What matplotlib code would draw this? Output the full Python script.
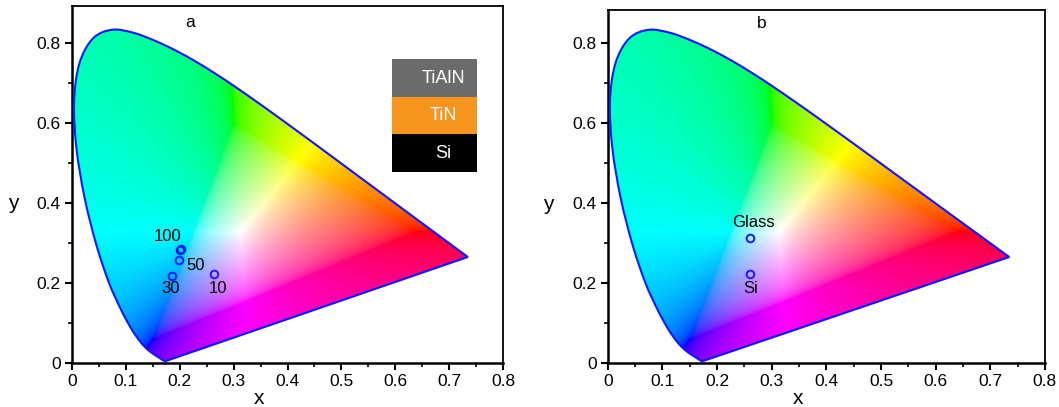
import numpy as np
import matplotlib
matplotlib.use("Agg")
import matplotlib.pyplot as plt
from matplotlib.patches import PathPatch, Rectangle
from matplotlib.path import Path
from matplotlib.ticker import MultipleLocator

plt.rcParams['font.family'] = ['Liberation Sans', 'DejaVu Sans']

# CIE 1931 2 deg spectral locus (380-700 nm)
locus_x = [0.1741, 0.1740, 0.1738, 0.1736, 0.1733, 0.1730, 0.1726, 0.1721, 0.1714, 0.1703,
           0.1689, 0.1669, 0.1644, 0.1611, 0.1566, 0.1510, 0.1440, 0.1355, 0.1241, 0.1096,
           0.0913, 0.0687, 0.0454, 0.0235, 0.0082, 0.0039, 0.0139, 0.0389, 0.0743, 0.1142,
           0.1547, 0.1929, 0.2296, 0.2658, 0.3016, 0.3373, 0.3731, 0.4087, 0.4441, 0.4788,
           0.5125, 0.5448, 0.5752, 0.6029, 0.6270, 0.6482, 0.6658, 0.6801, 0.6915, 0.7006,
           0.7079, 0.7140, 0.7190, 0.7230, 0.7260, 0.7283, 0.7300, 0.7311, 0.7320, 0.7334,
           0.7344, 0.7347]
locus_y = [0.0050, 0.0050, 0.0049, 0.0049, 0.0048, 0.0048, 0.0048, 0.0048, 0.0051, 0.0058,
           0.0069, 0.0086, 0.0109, 0.0138, 0.0177, 0.0227, 0.0297, 0.0399, 0.0578, 0.0868,
           0.1327, 0.2007, 0.2950, 0.4127, 0.5384, 0.6548, 0.7502, 0.8120, 0.8338, 0.8262,
           0.8059, 0.7816, 0.7543, 0.7243, 0.6923, 0.6589, 0.6245, 0.5896, 0.5547, 0.5202,
           0.4866, 0.4544, 0.4242, 0.3965, 0.3725, 0.3514, 0.3340, 0.3197, 0.3083, 0.2993,
           0.2920, 0.2859, 0.2809, 0.2770, 0.2740, 0.2717, 0.2700, 0.2689, 0.2680, 0.2666,
           0.2656, 0.2653]

# panel a: TiAlN/TiN/Si samples
a_x = [0.2006, 0.2025, 0.1988, 0.1858, 0.2642]
a_y = [0.2816, 0.2850, 0.2566, 0.2174, 0.2240]
a_labels = ["100", "50", "30", "10"]
a_label_x = [0.177, 0.229, 0.182, 0.271]
a_label_y = [0.317, 0.245, 0.186, 0.186]

# panel b: substrates
b_x = [0.260, 0.260]
b_y = [0.313, 0.2225]
b_labels = ["Glass", "Si"]
b_label_x = [0.266, 0.262]
b_label_y = [0.351, 0.187]

stack_names = ["TiAlN", "TiN", "Si"]
stack_colors = ["#6b6b6b", "#f7941d", "#000000"]


def smooth_outline(xs, ys):
    # Catmull-Rom through the locus points drawn as cubic Beziers, closed by the purple line
    p = np.column_stack([xs, ys])
    verts = [p[0]]
    codes = [Path.MOVETO]
    for i in range(len(p) - 1):
        p0 = p[max(i - 1, 0)]
        p1, p2 = p[i], p[i + 1]
        p3 = p[min(i + 2, len(p) - 1)]
        verts += [p1 + (p2 - p0) / 6, p2 - (p3 - p1) / 6, p2]
        codes += [Path.CURVE4] * 3
    verts += [p[0], p[0]]
    codes += [Path.LINETO, Path.CLOSEPOLY]
    return Path(verts, codes)


def chroma_image():
    n = 600
    gx, gy = np.meshgrid(np.linspace(0, 0.8, n), np.linspace(0.001, 0.9, n))
    X = gx / gy
    Y = np.ones_like(gx)
    Z = (1 - gx - gy) / gy
    M = np.array([[3.2406, -1.5372, -0.4986],
                  [-0.9689, 1.8758, 0.0415],
                  [0.0557, -0.2040, 1.0570]])
    rgb = np.einsum('ij,jkl->kli', M, np.stack([X, Y, Z]))
    # out-of-gamut: add white until inside (projection towards the white point)
    low = np.minimum(rgb.min(axis=2, keepdims=True), 0)
    rgb = rgb - low
    rgb = rgb / np.maximum(rgb.max(axis=2, keepdims=True), 1e-9)
    rgb = np.where(rgb <= 0.0031308, 12.92 * rgb, 1.055 * rgb ** (1 / 2.4) - 0.055)
    return np.clip(rgb, 0, 1)


img = chroma_image()
outline = smooth_outline(locus_x, locus_y)

fig = plt.figure(figsize=(10.59, 4.07), dpi=100)
ax_a = fig.add_axes([0.068, 0.108, 0.407, 0.877])
ax_b = fig.add_axes([0.574, 0.108, 0.4127, 0.867])

for ax, ymax in [(ax_a, 0.893), (ax_b, 0.883)]:
    im = ax.imshow(img, origin='lower', extent=[0, 0.8, 0.001, 0.9],
                   aspect='auto', interpolation='bilinear', zorder=1)
    clip = PathPatch(outline, transform=ax.transData, facecolor='none', edgecolor='none')
    im.set_clip_path(clip)
    ax.add_patch(PathPatch(outline, facecolor='none', edgecolor='#1414ff', lw=1.5, zorder=3))
    ax.set_xlim(0, 0.8)
    ax.set_ylim(0, ymax)
    ax.xaxis.set_minor_locator(MultipleLocator(0.05))
    ax.yaxis.set_minor_locator(MultipleLocator(0.1))
    ax.set_xticks([0, 0.1, 0.2, 0.3, 0.4, 0.5, 0.6, 0.7, 0.8])
    ax.set_xticklabels(["0", "0.1", "0.2", "0.3", "0.4", "0.5", "0.6", "0.7", "0.8"])
    ax.set_yticks([0, 0.2, 0.4, 0.6, 0.8])
    ax.set_yticklabels(["0", "0.2", "0.4", "0.6", "0.8"])
    ax.tick_params(which='major', direction='out', length=5, width=1.5, labelsize=12.5, pad=3)
    ax.tick_params(which='minor', direction='out', length=3, width=1.2)
    for s in ['left', 'bottom']:
        ax.spines[s].set_linewidth(1.8)
    for s in ['top', 'right']:
        ax.spines[s].set_linewidth(1.3)
    ax.set_xlabel('x', fontsize=15, va='center')
    ax.xaxis.set_label_coords(0.435, -0.100)
    ax.set_ylabel('y', fontsize=15, rotation=0, va='center', ha='center')
    ax.yaxis.set_label_coords(-0.136, 0.448)

# panel a
ax_a.plot(a_x, a_y, 'o', ms=5.5, mfc='none', mec='#1a1aff', mew=1.4, zorder=4)
for t, lx, ly in zip(a_labels, a_label_x, a_label_y):
    ax_a.text(lx, ly, t, fontsize=12, ha='center', va='center', zorder=5)
ax_a.text(0.219, 0.852, 'a', fontsize=12.5, ha='center', va='center')
box_top = 0.760
box_h = 0.094
for i, (name, c) in enumerate(zip(stack_names, stack_colors)):
    y0 = box_top - (i + 1) * box_h
    ax_a.add_patch(Rectangle((0.594, y0), 0.158, box_h, facecolor=c, edgecolor='none', zorder=4))
    ax_a.text(0.690, y0 + box_h / 2, name, color='white', fontsize=13,
              ha='center', va='center', zorder=5)

# panel b
ax_b.plot(b_x, b_y, 'o', ms=5.5, mfc='none', mec='#1a1aff', mew=1.4, zorder=4)
for t, lx, ly in zip(b_labels, b_label_x, b_label_y):
    ax_b.text(lx, ly, t, fontsize=12, ha='center', va='center', zorder=5)
ax_b.text(0.282, 0.850, 'b', fontsize=12.5, ha='center', va='center')

fig.savefig('out.png', dpi=100)
